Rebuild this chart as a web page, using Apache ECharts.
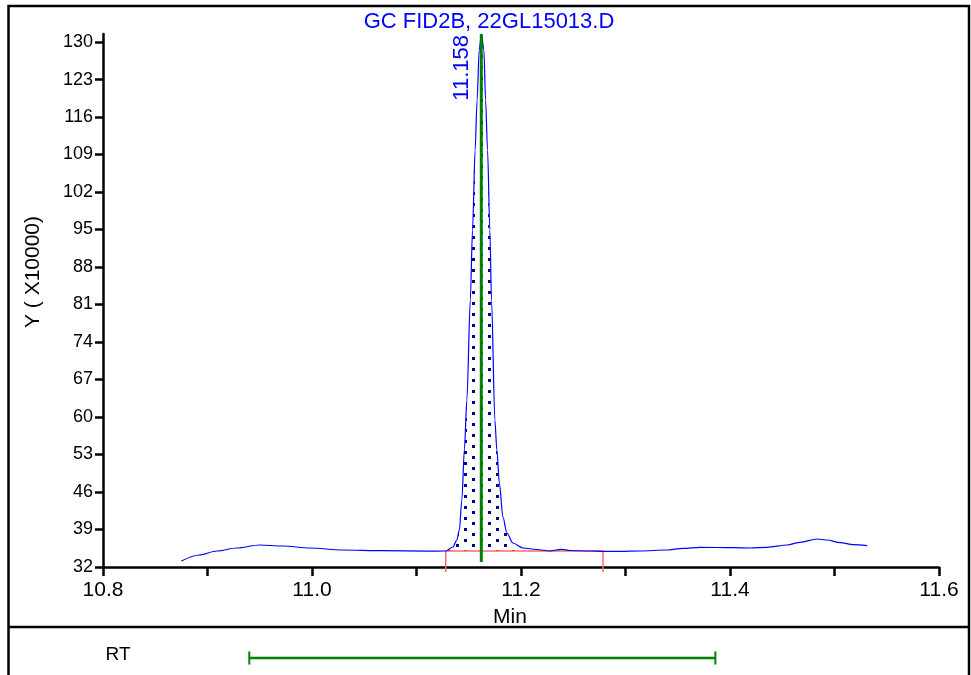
<!DOCTYPE html>
<html>
<head>
<meta charset="utf-8">
<script src="https://cdn.jsdelivr.net/npm/echarts@6/dist/echarts.min.js"></script>
<style>
html,body{margin:0;padding:0;background:#fff;}
#chart{width:971px;height:675px;}
</style>
</head>
<body>
<div id="chart"></div>
<script>
// ---- data ----
const titleText = 'GC FID2B, 22GL15013.D';
const yAxisTitle = 'Y ( X10000)';
const xAxisTitle = 'Min';
const rtLabel = 'RT';
const xTickMarks = [10.8, 10.9, 11.0, 11.1, 11.2, 11.3, 11.4, 11.5, 11.6];
const xTickLabels = [10.8, 11.0, 11.2, 11.4, 11.6];
const yTickLabels = [32, 39, 46, 53, 60, 67, 74, 81, 88, 95, 102, 109, 116, 123, 130];
const traceTime = [10.875, 10.892, 10.909, 10.928, 10.950, 10.972, 10.998, 11.029, 11.068, 11.110,
  11.128, 11.1348, 11.1386, 11.1410, 11.1434, 11.1458, 11.1482, 11.1515, 11.1536, 11.1561, 11.1580, 11.1600,
  11.1621, 11.1645, 11.1661, 11.1680, 11.1702, 11.1718, 11.1750, 11.1769, 11.1793, 11.1827, 11.1865, 11.1922,
  11.2018, 11.2152, 11.2277, 11.2334, 11.2392, 11.2467, 11.2660, 11.2785, 11.2947, 11.3139, 11.3397, 11.3550,
  11.3713, 11.4029, 11.4192, 11.4355, 11.4547, 11.4671, 11.4834, 11.4930, 11.5054, 11.5179, 11.5313];
const traceSignal = [33.12, 34.24, 34.99, 35.55, 36.11, 35.92, 35.55, 35.17, 35.05, 34.97,
  34.99, 35.73, 37.04, 38.91, 44.51, 53.84, 63.17, 81.84, 94.91, 109.84, 119.18, 128.51,
  131.50, 128.51, 119.18, 109.84, 94.91, 81.84, 59.44, 53.84, 47.68, 41.33, 38.35, 36.48,
  35.55, 35.27, 34.99, 35.17, 35.30, 35.08, 34.99, 34.92, 34.92, 34.99, 35.17, 35.49,
  35.68, 35.60, 35.55, 35.68, 36.11, 36.61, 37.23, 37.04, 36.54, 36.16, 35.98];
const peakRT = 11.162;
const peakLabel = '11.158';
const peakTop = 131.5;
const peakLineBottom = 32.93;
const baselineStart = 11.128;
const baselineEnd = 11.2785;
const baselineLevel = 35.0;
const markerBottom = 31.07;
const fillEnd = 11.215;
const rtWindow = [10.94, 11.386];

// ---- build ----
const trace = traceTime.map((t, i) => [t, traceSignal[i]]);
const peakFill = trace.filter(p => p[0] >= baselineStart && p[0] <= fillEnd);

const pat = document.createElement('canvas');
pat.width = 16; pat.height = 11;
const pc = pat.getContext('2d');
pc.fillStyle = '#00008c';
pc.fillRect(0, 0, 3, 3);
pc.fillRect(8, 5, 3, 3);

const FONT = 'Liberation Sans, Arial, sans-serif';
const chart = echarts.init(document.getElementById('chart'), null, {renderer: 'canvas'});

const option = {
  animation: false,
  backgroundColor: '#fff',
  grid: [
    {left: 103, right: 32, top: 34, bottom: 108, containLabel: false, outerBoundsMode: 'none'},
    {left: 103, right: 32, top: 646, height: 24, containLabel: false, outerBoundsMode: 'none'}
  ],
  xAxis: [{
    gridIndex: 0, type: 'value', min: 10.8, max: 11.6,
    axisLine: {show: true, onZero: false, lineStyle: {color: '#000', width: 2.5}},
    axisTick: {show: true, customValues: xTickMarks, length: 9, lineStyle: {color: '#000', width: 2.5}},
    axisLabel: {show: true, customValues: xTickLabels, formatter: v => v.toFixed(1), fontSize: 21, color: '#000', margin: 13, fontFamily: FONT},
    splitLine: {show: false}
  }, {
    gridIndex: 1, type: 'value', min: 10.8, max: 11.6, show: false
  }],
  yAxis: [{
    gridIndex: 0, type: 'value', min: 32, max: peakTop,
    axisLine: {show: true, onZero: false, lineStyle: {color: '#000', width: 2.5}},
    axisTick: {show: true, customValues: yTickLabels, length: 8, lineStyle: {color: '#000', width: 2.5}},
    axisLabel: {show: true, customValues: yTickLabels, fontSize: 18, color: '#000', margin: 10, fontFamily: FONT},
    splitLine: {show: false}
  }, {
    gridIndex: 1, type: 'value', min: 0, max: 2, show: false
  }],
  series: [
    {
      name: 'fill', type: 'line', xAxisIndex: 0, yAxisIndex: 0, data: peakFill,
      showSymbol: false, symbol: 'none', smooth: 0.3, smoothMonotone: 'x',
      lineStyle: {width: 0, opacity: 0},
      areaStyle: {origin: baselineLevel, color: {image: pat, repeat: 'repeat'}, opacity: 1},
      z: 1, silent: true, clip: false
    },
    {
      name: 'baseline', type: 'line', xAxisIndex: 0, yAxisIndex: 0,
      data: [[baselineStart, markerBottom], [baselineStart, baselineLevel], [baselineEnd, baselineLevel], [baselineEnd, markerBottom]],
      showSymbol: false, symbol: 'none', lineStyle: {color: '#ff6b6b', width: 1.5}, z: 2, clip: false
    },
    {
      name: 'trace', type: 'line', xAxisIndex: 0, yAxisIndex: 0, data: trace,
      showSymbol: false, symbol: 'none', smooth: 0.3, smoothMonotone: 'x',
      lineStyle: {color: '#0000ff', width: 1.2}, z: 3, clip: false
    },
    {
      name: 'rtline', type: 'line', xAxisIndex: 0, yAxisIndex: 0,
      data: [[peakRT, peakLineBottom], [peakRT, peakTop]],
      showSymbol: false, symbol: 'none', lineStyle: {color: '#008000', width: 3}, z: 4, clip: false
    },
    {
      name: 'rtwindow', type: 'line', xAxisIndex: 1, yAxisIndex: 1,
      data: [[rtWindow[0], 1], [rtWindow[1], 1]],
      symbol: 'rect', symbolSize: [2, 13], showSymbol: true,
      itemStyle: {color: '#008000'},
      lineStyle: {color: '#008000', width: 2.5}, z: 4, clip: false
    }
  ]
};
chart.setOption(option);

const peakTopPx = chart.convertToPixel({gridIndex: 0}, [peakRT, peakTop]);
chart.setOption({
  graphic: [
    {type: 'rect', shape: {x: 8.5, y: 6, width: 960.5, height: 700}, style: {fill: 'none', stroke: '#000', lineWidth: 2.5}, z: 10, silent: true},
    {type: 'line', shape: {x1: 8.5, y1: 627, x2: 969, y2: 627}, style: {stroke: '#000', lineWidth: 2.5}, z: 10, silent: true},
    {type: 'text', x: 489, y: 22, style: {text: titleText, fill: '#0000ff', font: '22px ' + FONT, textAlign: 'center', textVerticalAlign: 'middle'}, z: 10},
    {type: 'text', x: peakTopPx[0] - 8, y: peakTopPx[1] + 1, rotation: Math.PI / 2, style: {text: peakLabel, fill: '#0000ff', font: '22px ' + FONT, textAlign: 'right', textVerticalAlign: 'bottom'}, z: 10},
    {type: 'text', x: 33, y: 272, rotation: Math.PI / 2, style: {text: yAxisTitle, fill: '#000', font: '21px ' + FONT, textAlign: 'center', textVerticalAlign: 'middle'}, z: 10},
    {type: 'text', x: 510, y: 617, style: {text: xAxisTitle, fill: '#000', font: '21px ' + FONT, textAlign: 'center', textVerticalAlign: 'middle'}, z: 10},
    {type: 'text', x: 118, y: 655, style: {text: rtLabel, fill: '#000', font: '19px ' + FONT, textAlign: 'center', textVerticalAlign: 'middle'}, z: 10}
  ]
});
</script>
</body>
</html>
